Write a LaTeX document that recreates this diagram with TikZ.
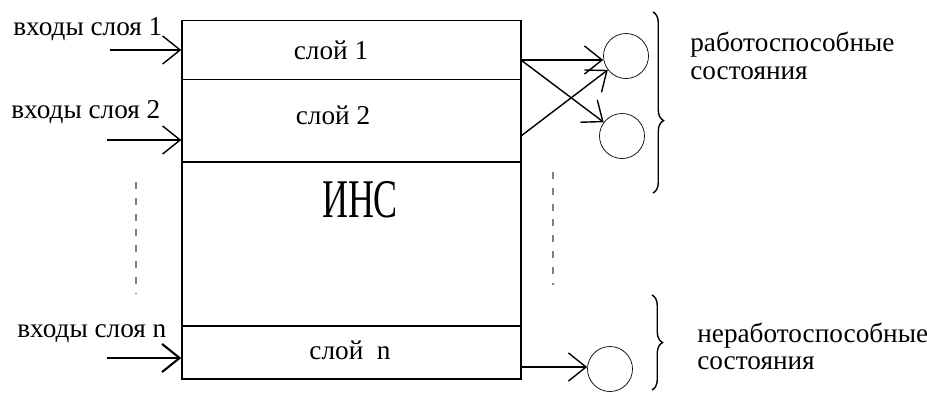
\documentclass[tikz,border=0pt]{standalone}
\usepackage{fontspec}
\setmainfont{Liberation Serif}
\usepackage{tikz}
\usetikzlibrary{arrows.meta,positioning,calc,decorations.pathreplacing}

\begin{document}
\begin{tikzpicture}[
  layer/.style={draw,thick,minimum width=6.78cm,inner sep=0pt},
  txt/.style={font=\fontsize{15.5}{16}\selectfont,inner sep=0pt},
  state/.style={draw,circle,minimum size=0.9cm,inner sep=0pt},
  arr/.style={thick,-{Straight Barb[length=10pt,width=16pt]}},
  dots/.style={thick,gray,dash pattern=on 4pt off 5pt},
  brc/.style={decorate,thick,decoration={brace,amplitude=6pt}},
  lbl/.style={font=\fontsize{15.5}{15.5}\selectfont,align=left,inner sep=0pt,anchor=west}
]
\useasboundingbox (0,0) rectangle (18.54,7.84);

% the network: stacked layers
\node[layer,minimum height=1.17cm] (l1)  at (7.03,6.84) {};
\node[layer,minimum height=1.65cm] (l2)  at (7.03,5.43) {};
\node[layer,minimum height=3.28cm] (mid) at (7.03,2.96) {};
\node[layer,minimum height=1.06cm] (ln)  at (7.03,0.79) {};

\node[txt] (t1)  at (6.62,6.84) {слой 1};
\node[txt] (t2)  at (6.66,5.54) {слой 2};
\node[txt] (tn)  at (7.00,0.84) {слой\ \ n};
\node[font=\fontsize{31}{31}\selectfont,inner sep=0pt] (ins) at (7.2,3.84) {\scalebox{0.66}[1]{ИНС}};

% inputs on the left
\node[txt,anchor=west] (in1lbl) at (0.26,7.26) {входы слоя 1};
\node[txt,anchor=west] (in2lbl) at (0.22,5.60) {входы слоя 2};
\node[txt,anchor=west] (inNlbl) at (0.34,1.16) {входы слоя n};

\coordinate (in1) at (2.20,6.84);
\coordinate (in2) at (2.14,5.04);
\coordinate (inN) at (2.14,0.68);
\draw[arr] (in1) -- (l1.west);
\draw[arr] (in2) -- (l2.west |- in2);
\draw[arr,very thick] (inN) -- (ln.west |- inN);

% output states
\node[state] (s1) at (12.52,6.72) {};
\node[state] (s2) at (12.44,5.12) {};
\node[state] (sN) at (12.20,0.46) {};

\coordinate (o1) at (10.42,6.64);
\coordinate (o2) at (10.42,5.12);
\coordinate (oN) at (10.42,0.50);
\draw[arr] (o1) -- (s1.west |- o1);
\draw[arr] (o1) -- (s2);
\draw[arr] (o2) -- (s1);
\draw[arr] (oN) -- (sN.west |- oN);

% vertical dots between layers
\draw[dots] (2.72,4.20) -- (2.72,1.96);
\draw[dots] (11.06,4.40) -- (11.06,2.14);

% braces and state groups
\draw[brc,decoration={aspect=0.6}] (13.06,7.60) -- (13.06,3.98);
\draw[brc] (13.04,1.94) -- (13.04,0.04);
\node[lbl] (ok)  at (13.80,6.72) {работоспособные\\состояния};
\node[lbl] (bad) at (13.94,0.92) {неработоспособные\\состояния};
\end{tikzpicture}
\end{document}
